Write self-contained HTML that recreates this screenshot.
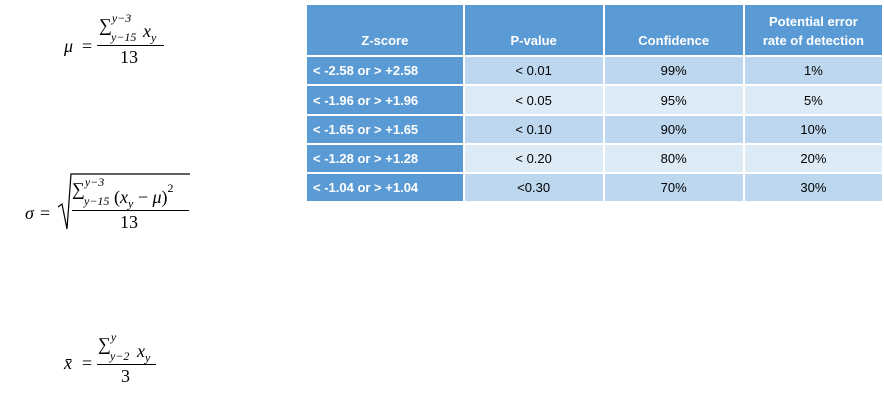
<!DOCTYPE html>
<html><head><meta charset="utf-8"><style>
body{margin:0;width:884px;height:405px;background:#fff;position:relative;overflow:hidden;font-family:"Liberation Serif",serif;}
.m{position:absolute;font-size:18px;color:#000;white-space:nowrap;}
.i{font-style:italic}
.s{font-size:12px}
.ln{position:absolute;height:1px;background:#000}
table{position:absolute;left:305px;top:5px;border-collapse:collapse;font-family:"Liberation Sans",sans-serif;font-size:13px;color:#000;}
td{border:2px solid #fff;text-align:center;padding:0;}
th{background:#5b9bd5;color:#fff;font-weight:bold;border:2px solid #fff;border-top:none;vertical-align:bottom;padding-bottom:5px;line-height:19px}
td.z{background:#5b9bd5;color:#fff;font-weight:bold;text-align:left;padding-left:6px}
tr.o td{background:#bdd7ee}
tr.e td{background:#ddebf7}
tr td.z{background:#5b9bd5}
</style></head><body>
<div>
<span class="m i" style="left:64px;top:36px">μ</span><span class="m" style="left:82px;top:36px">=</span>
<span class="m" style="left:99px;top:13px">∑<sup class="s i" style="position:relative;top:-2px">y−3</sup></span>
<span class="m s i" style="left:111px;top:30px">y−15</span><span class="m i" style="left:143px;top:21px">x<sub class="s">y</sub></span>
<div class="ln" style="left:97px;top:45px;width:67px"></div>
<span class="m" style="left:120px;top:47px">13</span></div>
<div>
<span class="m i" style="left:25px;top:203px">σ</span><span class="m" style="left:40px;top:203px">=</span>
<svg style="position:absolute;left:56px;top:171px" width="136" height="62"><polyline points="2,36 6,33 11,58 15,3 134,3" fill="none" stroke="#000" stroke-width="1.2"/></svg>
<span class="m" style="left:72px;top:177px">∑<sup class="s i" style="position:relative;top:-2px">y−3</sup></span>
<span class="m s i" style="left:84px;top:194px">y−15</span>
<span class="m" style="left:114px;top:185px">(<i>x</i><sub class="s i">y</sub> − <i>μ</i>)<sup class="s" style="position:relative;top:-4px">2</sup></span>
<div class="ln" style="left:72px;top:210px;width:117px"></div>
<span class="m" style="left:120px;top:212px">13</span></div>
<div>
<span class="m i" style="left:64px;top:353px">x̄</span><span class="m" style="left:82px;top:353px">=</span>
<span class="m" style="left:98px;top:332px">∑<sup class="s i" style="position:relative;top:-2px">y</sup></span>
<span class="m s i" style="left:110px;top:349px">y−2</span><span class="m i" style="left:137px;top:341px">x<sub class="s">y</sub></span>
<div class="ln" style="left:97px;top:364px;width:59px"></div>
<span class="m" style="left:121px;top:366px">3</span></div>
<table>
<tr style="height:51px"><th style="width:155px">Z-score</th><th style="width:137px">P-value</th><th style="width:137px">Confidence</th><th style="width:136px">Potential error<br>rate of detection</th></tr>
<tr class="o" style="height:29px"><td class="z">&lt; -2.58 or &gt; +2.58</td><td>&lt; 0.01</td><td>99%</td><td>1%</td></tr>
<tr class="e" style="height:30px"><td class="z">&lt; -1.96 or &gt; +1.96</td><td>&lt; 0.05</td><td>95%</td><td>5%</td></tr>
<tr class="o" style="height:29px"><td class="z">&lt; -1.65 or &gt; +1.65</td><td>&lt; 0.10</td><td>90%</td><td>10%</td></tr>
<tr class="e" style="height:29px"><td class="z">&lt; -1.28 or &gt; +1.28</td><td>&lt; 0.20</td><td>80%</td><td>20%</td></tr>
<tr class="o" style="height:29px"><td class="z">&lt; -1.04 or &gt; +1.04</td><td>&lt;0.30</td><td>70%</td><td>30%</td></tr>
</table>
</body></html>
